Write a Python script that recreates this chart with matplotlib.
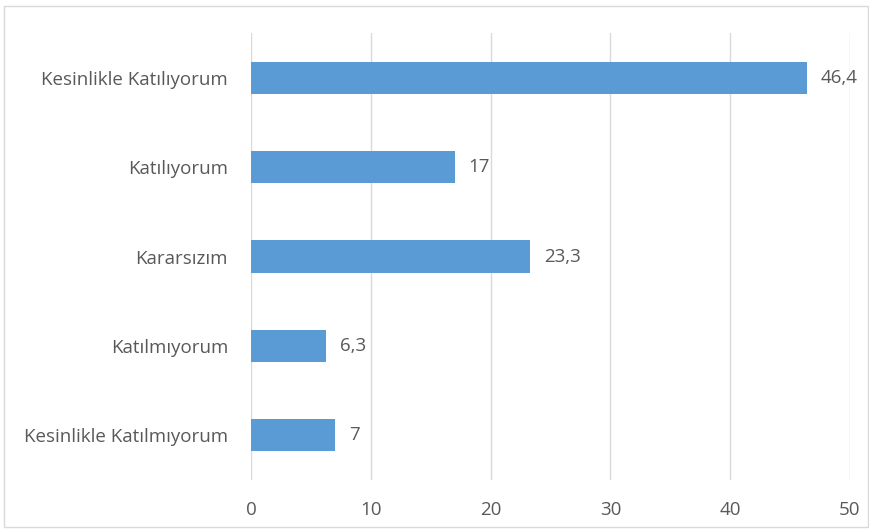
import matplotlib.pyplot as plt
from matplotlib.patches import Rectangle

categories = ['Kesinlikle Katılıyorum', 'Katılıyorum', 'Kararsızım',
              'Katılmıyorum', 'Kesinlikle Katılmıyorum']
values = [46.4, 17, 23.3, 6.3, 7]
value_labels = ['46,4', '17', '23,3', '6,3', '7']
x_ticks = [0, 10, 20, 30, 40, 50]

bar_color = '#5B9BD5'
text_color = '#595959'
grid_color = '#D9D9D9'

plt.rcParams['font.family'] = ['Open Sans', 'DejaVu Sans']

fig = plt.figure(figsize=(8.7, 5.29), dpi=100)
ax = fig.add_axes([251 / 870, 1 - 480 / 529, 599 / 870, 447 / 529])

# outer chart border
fig.patches.append(Rectangle((0.005, 0.004), 0.993, 0.985, transform=fig.transFigure,
                             fill=False, edgecolor=grid_color, linewidth=1))

y_pos = list(range(len(categories)))
ax.barh(y_pos, values, height=0.36, color=bar_color, zorder=3)

for y, v, lab in zip(y_pos, values, value_labels):
    ax.text(v + 1.15, y, lab, va='center', ha='left', fontsize=13.5, color=text_color)

ax.set_yticks(y_pos)
ax.set_yticklabels(categories, fontsize=13.5, color=text_color)
ax.set_ylim(len(categories) - 0.5, -0.5)
ax.set_xlim(0, 50)
ax.set_xticks(x_ticks)
ax.set_xticklabels([str(t) for t in x_ticks], fontsize=13.5, color=text_color)
ax.tick_params(axis='both', length=0)
ax.tick_params(axis='x', pad=15)
ax.tick_params(axis='y', pad=16.5)

ax.grid(axis='x', color=grid_color, linewidth=1, zorder=0)
for s in ax.spines.values():
    s.set_visible(False)

fig.savefig('out.png', dpi=100)
